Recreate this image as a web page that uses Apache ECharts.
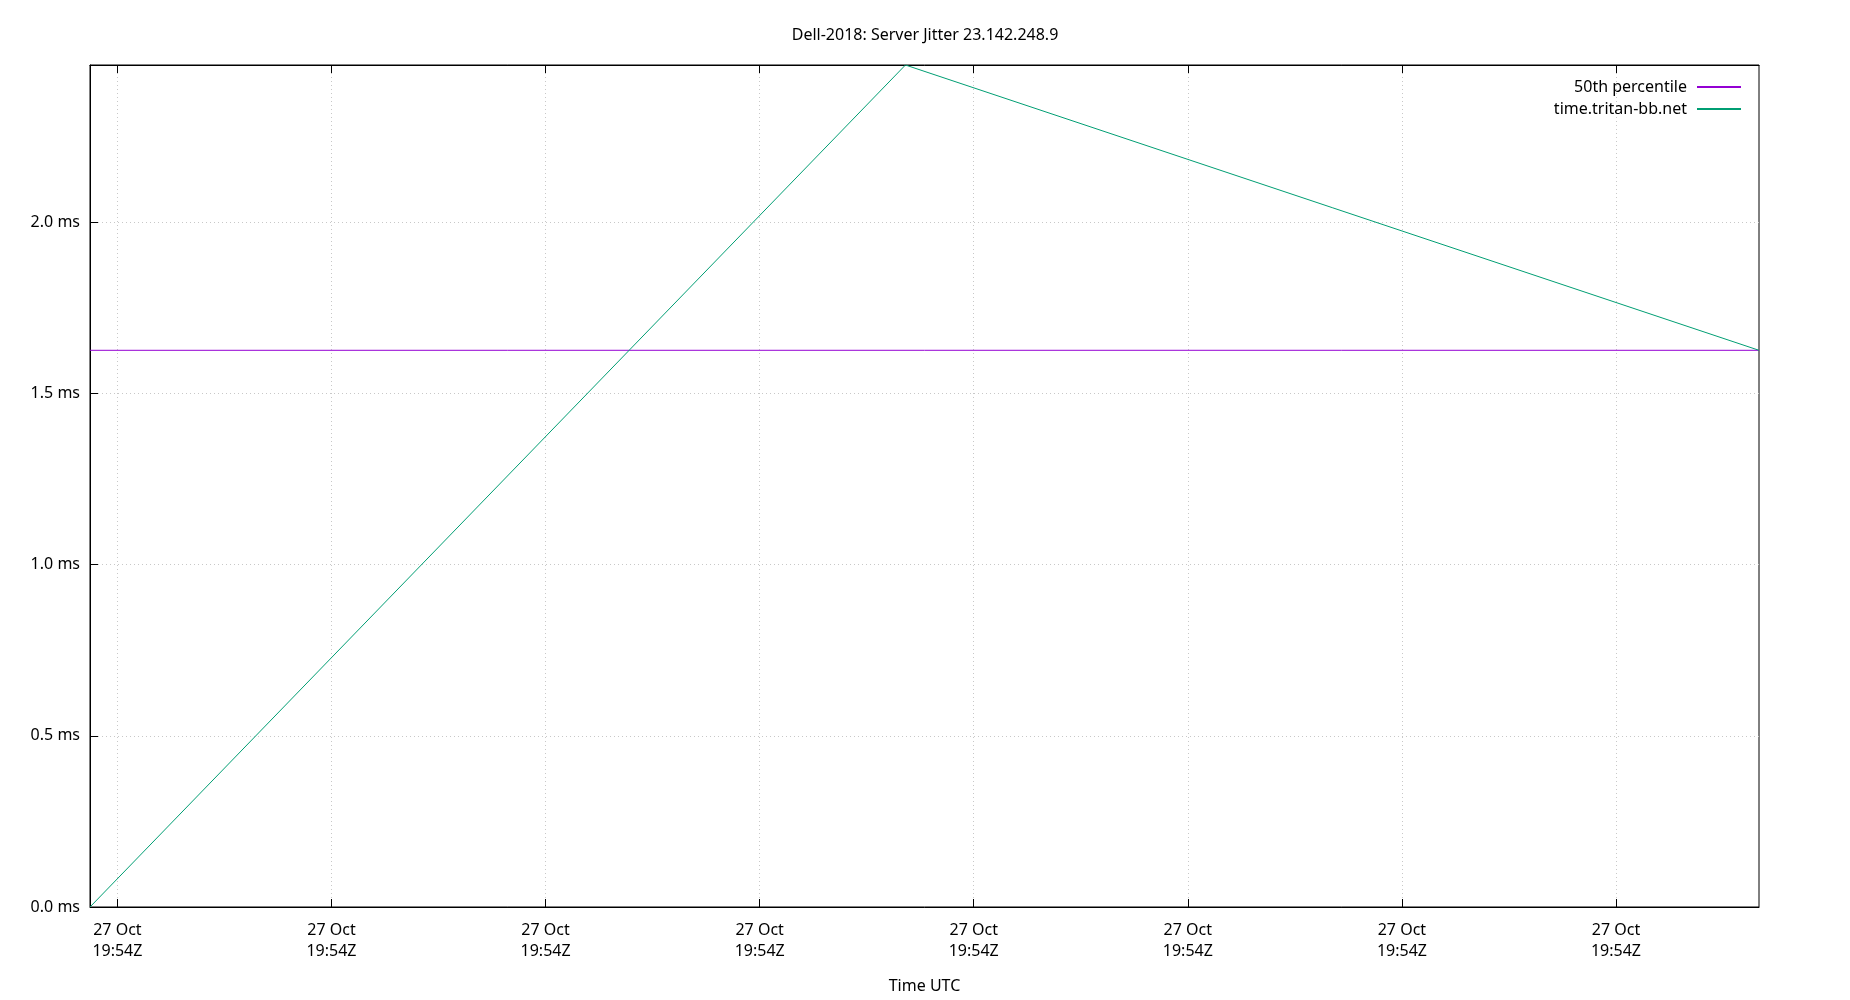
<!DOCTYPE html>
<html>
<head>
<meta charset="utf-8">
<title>Dell-2018: Server Jitter 23.142.248.9</title>
<script src="https://cdn.jsdelivr.net/npm/echarts@6/dist/echarts.min.js"></script>
<style>
    html, body { margin: 0; padding: 0; background: #fff; }
    #main { width: 1850px; height: 1000px; }
</style>
</head>
<body>
<div id="main"></div>
<script>
// 基准时间 27 Oct 19:54:00Z
var baseTime = Date.UTC(2018, 9, 27, 19, 54, 0);

// 抖动数据 (秒偏移, ms)
var jitterSeconds = [4.36, 23.405, 43.34];
var jitterValues = [0, 2.4595, 1.6261];

// 50th percentile
var percentileValue = 1.6261;

// x 轴刻度 (秒偏移)
var tickSeconds = [5, 10, 15, 20, 25, 30, 35, 40];

// y 轴刻度
var yTicks = [0, 0.5, 1.0, 1.5, 2.0];

var monthNames = ['Jan', 'Feb', 'Mar', 'Apr', 'May', 'Jun', 'Jul', 'Aug', 'Sep', 'Oct', 'Nov', 'Dec'];
var fontName = 'Noto Sans';

function toTime(sec) {
    return baseTime + sec * 1000;
}

function pad(n) {
    return n < 10 ? '0' + n : '' + n;
}

function timeLabel(value) {
    var d = new Date(value);
    return d.getUTCDate() + ' ' + monthNames[d.getUTCMonth()] + '\n' +
        pad(d.getUTCHours()) + ':' + pad(d.getUTCMinutes()) + 'Z';
}

var xMin = toTime(jitterSeconds[0]);
var xMax = toTime(jitterSeconds[jitterSeconds.length - 1]);
var tickTimes = tickSeconds.map(toTime);

var jitterData = [];
for (var i = 0; i < jitterSeconds.length; i++) {
    jitterData.push([toTime(jitterSeconds[i]), jitterValues[i]]);
}
var percentileData = [[xMin, percentileValue], [xMax, percentileValue]];

var myChart = echarts.init(document.getElementById('main'));
var option = {
    backgroundColor: '#fff',
    animation: false,
    title: {
        text: 'Dell-2018: Server Jitter 23.142.248.9',
        left: 'center',
        top: 22,
        textStyle: { fontFamily: fontName, fontSize: 16, fontWeight: 'normal', color: '#000' }
    },
    legend: {
        orient: 'vertical',
        right: 104,
        top: 73,
        align: 'right',
        itemWidth: 44,
        itemHeight: 2,
        itemGap: 4,
        icon: 'rect',
        textStyle: { fontFamily: fontName, fontSize: 16, color: '#000', padding: [0, 5, 0, 0], lineHeight: 18 },
        data: ['50th percentile', 'time.tritan-bb.net']
    },
    grid: {
        left: 90,
        right: 91,
        top: 65,
        bottom: 93,
        show: true,
        borderColor: '#000',
        borderWidth: 1,
        containLabel: false
    },
    xAxis: [
        {
            type: 'value',
            position: 'bottom',
            min: xMin,
            max: xMax,
            name: 'Time UTC',
            nameLocation: 'middle',
            nameGap: 71,
            nameTextStyle: { fontFamily: fontName, fontSize: 16, color: '#000' },
            axisLine: { show: true, lineStyle: { color: '#000', width: 1 } },
            axisTick: { show: true, inside: true, length: 8, customValues: tickTimes, lineStyle: { color: '#000' } },
            axisLabel: {
                customValues: tickTimes,
                margin: 13,
                fontFamily: fontName,
                fontSize: 16,
                lineHeight: 21,
                color: '#000',
                formatter: timeLabel
            },
            splitLine: { show: true, lineStyle: { color: '#c8c8c8', type: [1, 3], width: 1 } }
        },
        {
            type: 'value',
            position: 'top',
            min: xMin,
            max: xMax,
            axisLine: { show: true, lineStyle: { color: '#000', width: 1 } },
            axisTick: { show: true, inside: true, length: 8, customValues: tickTimes, lineStyle: { color: '#000' } },
            axisLabel: { show: false },
            splitLine: { show: false }
        }
    ],
    yAxis: {
        type: 'value',
        min: 0,
        max: 2.4595,
        axisLine: { show: true, lineStyle: { color: '#000', width: 1 } },
        axisTick: { show: true, inside: true, length: 8, customValues: yTicks, lineStyle: { color: '#000' } },
        axisLabel: {
            customValues: yTicks,
            margin: 10,
            fontFamily: fontName,
            fontSize: 16,
            color: '#000',
            formatter: function (value) {
                return value.toFixed(1) + ' ms';
            }
        },
        splitLine: { show: true, lineStyle: { color: '#c8c8c8', type: [1, 3], width: 1 } }
    },
    series: [
        {
            name: '50th percentile',
            type: 'line',
            xAxisIndex: 0,
            symbol: 'none',
            itemStyle: { color: '#9400d3' },
            lineStyle: { color: '#9400d3', width: 1 },
            data: percentileData
        },
        {
            name: 'time.tritan-bb.net',
            type: 'line',
            xAxisIndex: 0,
            symbol: 'none',
            itemStyle: { color: '#009e73' },
            lineStyle: { color: '#009e73', width: 1 },
            data: jitterData
        }
    ]
};
// 使用刚指定的配置项和数据显示图表。
myChart.setOption(option);
</script>
</body>
</html>
